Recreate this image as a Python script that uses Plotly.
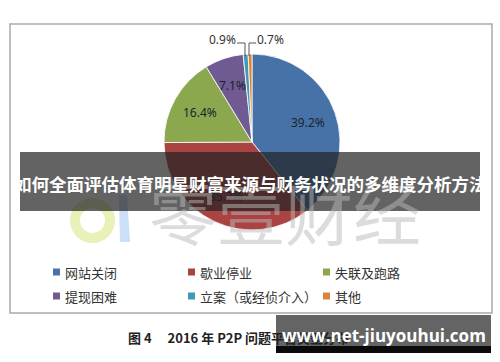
import math
import plotly.graph_objects as go

labels = ["网站关闭", "歇业停业", "失联及跑路", "提现困难", "立案（或经侦介入）", "其他"]
values = [39.2, 35.7, 16.4, 7.1, 0.9, 0.7]
colors = ["#4672A8", "#AA4442", "#8BA84F", "#6F5A92", "#3F9AB5", "#E0833A"]

banner_text = "如何全面评估体育明星财富来源与财务状况的多维度分析方法"
caption_text = "图 4　 2016 年 P2P 问题平台类型分布"
site_text = "www.net-jiuyouhui.com"
watermark_text = "零壹财经"

W, H = 500, 362

def px(x):
    return x / W

def py(y):
    return 1 - y / H

fig = go.Figure()
cx, cy, r = 252, 142, 88
fig.add_trace(go.Pie(
    labels=labels, values=values, sort=False, direction="clockwise", rotation=0,
    marker=dict(colors=colors, line=dict(color="white", width=0.8)),
    textinfo="none",
    domain=dict(x=[px(cx - r), px(cx + r)], y=[py(cy + r), py(cy - r)]),
    showlegend=False, hoverinfo="label+percent",
))

shapes = []
annotations = []

# frame
shapes.append(dict(type="rect", xref="paper", yref="paper",
                   x0=px(10), x1=px(492), y0=py(313), y1=py(24),
                   line=dict(color="#ababab", width=1.5), layer="below"))

def paper_path(p):
    toks = p.split()
    out = []
    i = 0
    while i < len(toks):
        if toks[i] in ("M", "L"):
            out.append(f"{toks[i]} {px(float(toks[i+1]))} {py(float(toks[i+2]))}")
            i += 3
        elif toks[i] == "Z":
            out.append("Z")
            i += 1
        else:
            i += 1
    return " ".join(out)

# inside data labels at the middle angle of each large slice
total = sum(values)
cum = 0.0
for v in values:
    mid = (cum + v / 2) / total * 2 * math.pi
    cum += v
    if v < 5:
        continue
    rad = 0.68 * r
    lx = cx + rad * math.sin(mid)
    ly = cy - rad * math.cos(mid)
    annotations.append(dict(x=px(lx), y=py(ly), xref="paper", yref="paper",
                            xanchor="center", yanchor="middle",
                            text=f"{v:.1f}%", showarrow=False,
                            font=dict(family="Noto Sans", size=12, color="#1c2330")))

# small-slice labels with leader lines
small = [(4, 222, "M 237 43 L 245 43 L 245 56"), (5, 270, "M 256 43 L 249 43 L 249 56")]
for idx, tx, path in small:
    annotations.append(dict(x=px(tx), y=py(39), xref="paper", yref="paper",
                            xanchor="center", yanchor="middle",
                            text=f"{values[idx]:.1f}%", showarrow=False,
                            font=dict(family="Noto Sans", size=12, color="#333")))
    shapes.append(dict(type="path", xref="paper", yref="paper", path=paper_path(path),
                       line=dict(color="#555", width=1)))

# legend (manual, built from labels/colors)
col_x = [53, 188, 323]
row_y = [272, 296]
for i, (lab, col) in enumerate(zip(labels, colors)):
    c, rr = i % 3, i // 3
    x0, y0 = col_x[c], row_y[rr]
    shapes.append(dict(type="rect", xref="paper", yref="paper",
                       x0=px(x0), x1=px(x0 + 7), y0=py(y0 + 3.5), y1=py(y0 - 3.5),
                       fillcolor=col, line=dict(width=0)))
    annotations.append(dict(x=px(x0 + 10), y=py(y0), xref="paper", yref="paper",
                            xanchor="left", yanchor="middle", text=lab, showarrow=False,
                            font=dict(family="Noto Sans CJK SC", size=13, color="#333")))

# watermark logo + text
shapes.append(dict(type="circle", xref="paper", yref="paper",
                   x0=px(75), x1=px(110), y0=py(238), y1=py(203),
                   line=dict(color="rgba(225,235,160,0.75)", width=10)))
shapes.append(dict(type="path", xref="paper", yref="paper",
                   path=paper_path("M 119 195 L 120 242 L 130 242 L 127 195 Z"),
                   fillcolor="rgba(190,215,245,0.8)", line=dict(width=0)))
annotations.append(dict(x=px(285), y=py(210), xref="paper", yref="paper",
                        xanchor="center", yanchor="middle",
                        text=watermark_text, showarrow=False,
                        font=dict(family="Noto Sans CJK SC", size=68, color="rgba(185,185,185,0.5)")))

# banner
shapes.append(dict(type="rect", xref="paper", yref="paper",
                   x0=px(20), x1=px(480), y0=py(211), y1=py(152),
                   fillcolor="rgba(35,35,35,0.71)", line=dict(width=0), layer="above"))
annotations.append(dict(x=px(250), y=py(183), xref="paper", yref="paper",
                        xanchor="center", yanchor="middle",
                        text=f"<b>{banner_text}</b>", showarrow=False,
                        font=dict(family="Noto Sans CJK SC", size=17.5, color="white")))

# caption
annotations.append(dict(x=px(126), y=py(337), xref="paper", yref="paper",
                        xanchor="left", yanchor="middle", text=f"<b>{caption_text}</b>", showarrow=False,
                        font=dict(family="Noto Sans CJK SC", size=13, color="#222")))

# site box
shapes.append(dict(type="rect", xref="paper", yref="paper",
                   x0=px(276), x1=px(491), y0=py(346), y1=py(315),
                   fillcolor="rgba(40,40,40,0.72)", line=dict(width=0), layer="above"))
shapes.append(dict(type="rect", xref="paper", yref="paper",
                   x0=px(276), x1=px(491), y0=py(353), y1=py(346),
                   fillcolor="#0a0a0a", line=dict(width=0), layer="above"))
annotations.append(dict(x=px(384), y=py(335), xref="paper", yref="paper",
                        xanchor="center", yanchor="middle",
                        text=f"<b>{site_text}</b>", showarrow=False,
                        font=dict(family="Open Sans", size=17, color="white")))

fig.update_layout(width=W, height=H, margin=dict(l=0, r=0, t=0, b=0),
                  paper_bgcolor="white", plot_bgcolor="white",
                  shapes=shapes, annotations=annotations)
fig.write_html("out.html", config={"displayModeBar": False},
               post_script="document.body.style.margin='0';document.body.style.padding='0';")
